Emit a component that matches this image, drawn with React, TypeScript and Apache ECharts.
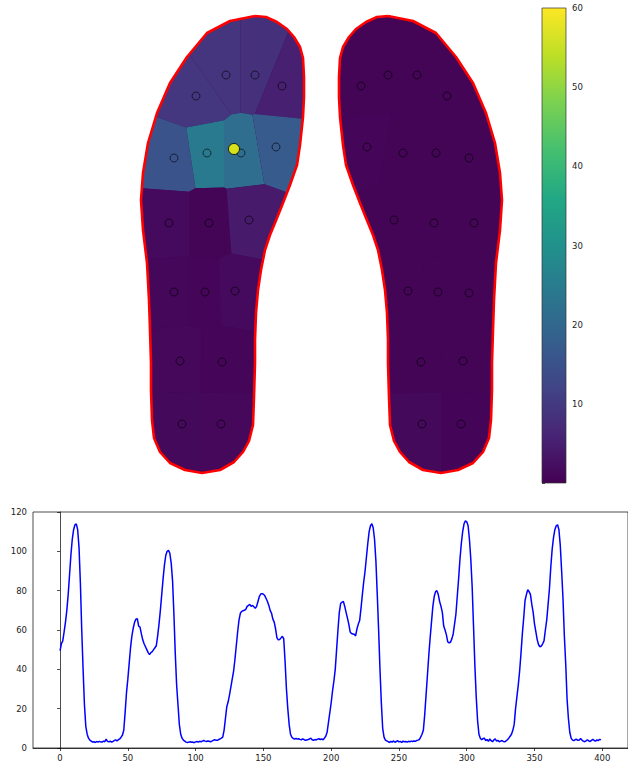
import React, { useEffect, useRef } from 'react';
import * as echarts from 'echarts';

// ---------- line chart data (sensor total over 400 frames) ----------
const pressureSeries: number[] = [
  49.5, 53, 54.5, 59, 64, 70, 78, 88, 98, 106,
  111, 113.5, 114, 111, 102, 84, 60, 40, 22, 11,
  7, 5, 4, 3.5, 3, 3.2, 2.8, 3.3, 3, 3.4,
  3.1, 3, 3.5, 3.2, 4.5, 3.4, 3.1, 3.5, 3, 3.3,
  3.8, 4.1, 3.6, 4.2, 4.6, 5.5, 6.5, 9, 18, 28,
  35, 43, 51, 57, 61, 64, 65.5, 65.8, 62, 61.5,
  58, 55, 53, 51.5, 50, 48.5, 47.5, 48.5, 49, 50,
  51, 52, 57, 63, 70, 78, 86, 93, 98, 100,
  100.5, 99, 94, 85, 68, 48, 32, 22, 12, 7,
  5, 4, 3.5, 3, 2.8, 3, 3.2, 2.9, 3, 2.7,
  3.1, 3.3, 3, 3.4, 3.2, 3.5, 3.8, 3.5, 3.3, 3.6,
  3.4, 3.2, 3.5, 3.9, 4.2, 4, 3.9, 4.3, 4.6, 5,
  5.5, 9, 15, 21, 23.5, 27, 31, 35, 39, 45,
  52, 59, 65, 68.5, 69.5, 69.8, 70, 70.5, 72, 72.5,
  73, 72, 72.5, 71.8, 71, 72, 74.5, 77, 78.3, 78.5,
  78.2, 77.5, 76, 74.5, 72.5, 70, 68.5, 65.5, 64, 60.5,
  56, 55, 55.2, 56, 56.8, 55.5, 44, 30, 20, 12,
  7, 5.5, 4.8, 4.6, 4.8, 4.5, 4.7, 4.4, 4.2, 4.6,
  4.3, 3.9, 4.1, 4.3, 4.6, 5, 4.2, 3.9, 4.3, 4.1,
  4.5, 4.7, 4.3, 4.6, 4.2, 5, 6, 8, 13, 18,
  23, 29, 34, 40, 50, 60, 69, 73.5, 74.2, 74.5,
  72, 69, 66, 63, 59, 58.2, 58, 57.8, 57, 60.5,
  63, 64.8, 71, 78, 84.5, 90, 97, 104, 110, 113,
  114, 112, 106, 95, 78, 60, 40, 23, 10, 5.5,
  4, 3.6, 3.2, 2.8, 3.4, 3, 3.6, 2.9, 3.3, 3.7,
  3.1, 3.4, 2.8, 3.5, 3.2, 3.3, 3, 3.4, 3.2, 3.5,
  3.3, 3.6, 3.4, 3.8, 4, 4.3, 5.5, 7, 9, 17,
  27, 37, 47, 56, 64, 72, 77, 79.5, 80, 78,
  74.5, 72, 69, 62, 60, 57.5, 54, 53.5, 53.8, 55.5,
  58, 63, 68, 77, 86, 96, 104, 110, 114, 115.5,
  115, 113, 106, 96, 82, 62, 42, 26, 14, 7,
  5, 4.2, 4.8, 5, 3.8, 4.3, 3.4, 4.6, 3.7, 3.2,
  4.1, 4.6, 3.5, 3.9, 3.2, 3.5, 3.8, 3.3, 3.1, 3.6,
  4.2, 5, 6, 7, 9, 12, 20, 26, 32, 39,
  48, 58, 66, 75, 78, 80.5, 79.5, 78, 73, 69,
  63, 59, 55, 52.5, 51.5, 51.8, 53, 54.5, 60, 65,
  73, 81, 92, 101, 107, 111, 113, 113.5, 111, 103,
  90, 76, 57, 43, 25, 15, 8, 5, 4, 3.8,
  4.3, 4.4, 3.9, 4.1, 4.8, 4, 3.5, 3.2, 3.6, 4.2,
  3.6, 3.3, 3.9, 4.4, 3.8, 3.5, 4.1, 3.7, 4.4, 4.2,
];
const xTicks = [0, 50, 100, 150, 200, 250, 300, 350, 400];
const colorbarTicks = [10, 20, 30, 40, 50, 60];

// ---------- insole sensors (layout units) ----------
const leftSensorX = [226, 255, 196, 282, 174, 207, 241, 276, 169, 209, 249, 174, 205, 235, 180, 222, 182, 221];
const leftSensorY = [75, 75, 96, 86, 158, 153, 153, 147, 223, 223, 220, 292, 292, 291, 361, 362, 424, 424];
const leftValues = [9, 8.3, 9.5, 5.3, 15.5, 24.5, 21.5, 17, 1.6, 0.6, 4.2, 1.1, 0.9, 1.6, 1.2, 0.9, 1.3, 1.2];

const rightSensorX = [361, 388, 417, 447, 367, 403, 436, 469, 394, 434, 474, 408, 438, 469, 421, 463, 422, 461];
const rightSensorY = [86, 75, 75, 96, 147, 153, 153, 158, 220, 223, 223, 291, 292, 293, 362, 361, 424, 424];
const rightValues = [0.6, 0.6, 0.6, 0.6, 0.9, 0.6, 0.6, 0.6, 0.6, 0.6, 0.6, 0.6, 0.6, 0.6, 0.6, 0.6, 1.3, 0.7];

const leftOutline: number[][] = [
  [255, 16], [266, 17], [277, 22], [287, 29], [294, 37], [300, 47], [303, 58], [304, 77], [304, 97], [303, 117],
  [300, 145], [297, 165], [290, 185], [283, 203], [277, 218], [270, 235], [265, 250], [261, 270], [258, 290], [256, 313],
  [255, 340], [255, 363], [254, 397], [253, 425], [249, 441], [243, 452], [234, 462], [220, 470], [202, 473], [185, 470],
  [170, 463], [160, 452], [154, 438], [152, 420], [151, 390], [151, 363], [150, 330], [149, 300], [147, 263], [143, 230],
  [141, 200], [143, 173], [148, 143], [157, 113], [170, 83], [187, 57], [207, 33], [230, 21],
];
const rightOutline: number[][] = [
  [388, 16], [377, 17], [366, 22], [356, 29], [349, 37], [343, 47], [340, 58], [339, 77], [339, 97], [340, 117],
  [343, 145], [346, 165], [353, 185], [360, 203], [366, 218], [373, 235], [378, 250], [382, 270], [385, 290], [387, 313],
  [388, 340], [388, 363], [389, 397], [390, 425], [394, 441], [400, 452], [409, 462], [423, 470], [441, 473], [458, 470],
  [473, 463], [483, 452], [489, 438], [491, 420], [492, 390], [492, 363], [493, 330], [494, 300], [496, 263], [500, 230],
  [502, 200], [500, 173], [495, 143], [486, 113], [473, 83], [456, 57], [436, 33], [413, 21],
];
const highlightPoint = [234, 149];

const viridis = ['#440154', '#482475', '#414487', '#355f8d', '#2a788e', '#21918c', '#22a884', '#44bf70', '#7ad151', '#bddf26', '#fde725'];

function clipHalfPlane(poly: number[][], a: number[], b: number[]): number[][] {
  const nx = b[0] - a[0];
  const ny = b[1] - a[1];
  const mx = (a[0] + b[0]) / 2;
  const my = (a[1] + b[1]) / 2;
  const f = (p: number[]) => (p[0] - mx) * nx + (p[1] - my) * ny;
  const out: number[][] = [];
  const n = poly.length;
  for (let i = 0; i < n; i++) {
    const cur = poly[i];
    const prev = poly[(i + n - 1) % n];
    const fc = f(cur);
    const fp = f(prev);
    const cross = () => {
      const t = fp / (fp - fc);
      return [prev[0] + t * (cur[0] - prev[0]), prev[1] + t * (cur[1] - prev[1])];
    };
    if (fc <= 0) {
      if (fp > 0) out.push(cross());
      out.push(cur);
    } else if (fp <= 0) {
      out.push(cross());
    }
  }
  return out;
}

function buildCells(xs: number[], ys: number[], outline: number[][]): number[][][] {
  return xs.map((x, i) => {
    let poly = outline.slice();
    for (let j = 0; j < xs.length; j++) {
      if (j === i) continue;
      poly = clipHalfPlane(poly, [x, ys[i]], [xs[j], ys[j]]);
      if (poly.length === 0) break;
    }
    return poly;
  });
}

const allCells = [
  ...buildCells(leftSensorX, leftSensorY, leftOutline),
  ...buildCells(rightSensorX, rightSensorY, rightOutline),
];
const cellData = [
  ...leftSensorX.map((x, i) => [x, leftSensorY[i], leftValues[i], i]),
  ...rightSensorX.map((x, i) => [x, rightSensorY[i], rightValues[i], leftSensorX.length + i]),
];
const sensorPoints = [
  ...leftSensorX.map((x, i) => [x, leftSensorY[i]]),
  ...rightSensorX.map((x, i) => [x, rightSensorY[i]]),
];
const outlines = [leftOutline, rightOutline];

const FONT = 'DejaVu Sans';
const labelStyle = { color: '#222', fontSize: 8.5, fontFamily: FONT };

export default function App() {
  const ref = useRef<HTMLDivElement>(null);
  useEffect(() => {
    if (!ref.current) return;
    const chart = echarts.init(ref.current, undefined, { renderer: 'svg' });
    const hidden = { show: false };
    const option: any = {
      animation: false,
      backgroundColor: '#fff',
      grid: [
        { left: 0, top: 0, width: 628, height: 490 },
        { left: 33, top: 512, width: 596, height: 236, show: true, borderColor: '#000', borderWidth: 0.7 },
        { left: 542, top: 8, width: 24, height: 475 },
      ],
      xAxis: [
        { gridIndex: 0, type: 'value', min: 0, max: 628, ...hidden },
        {
          gridIndex: 1, type: 'value', min: -19.95, max: 418.95,
          axisLine: { show: true, lineStyle: { color: '#000', width: 0.7 } },
          axisTick: { show: true, length: 3, customValues: xTicks, lineStyle: { color: '#000', width: 0.7 } },
          axisLabel: { customValues: xTicks, margin: 5, ...labelStyle },
          splitLine: { show: false },
        },
        { gridIndex: 2, type: 'value', min: 0, max: 1, ...hidden },
      ],
      yAxis: [
        { gridIndex: 0, type: 'value', min: 0, max: 490, inverse: true, ...hidden },
        {
          gridIndex: 1, type: 'value', min: 0, max: 120, interval: 20,
          axisLine: { show: true, lineStyle: { color: '#000', width: 0.7 } },
          axisTick: { show: true, length: 3, lineStyle: { color: '#000', width: 0.7 } },
          axisLabel: { margin: 6, ...labelStyle },
          splitLine: { show: false },
        },
        {
          gridIndex: 2, type: 'value', min: 0, max: 60, interval: 10, position: 'right',
          axisLine: { show: false },
          axisTick: { show: true, length: 3, lineStyle: { color: '#000', width: 0.7 } },
          axisLabel: {
            margin: 6, ...labelStyle,
            formatter: (v: number) => (colorbarTicks.indexOf(v) >= 0 ? String(v) : ''),
          },
          splitLine: { show: false },
        },
      ],
      visualMap: {
        type: 'continuous', show: false, min: 0, max: 60, dimension: 2, seriesIndex: 1,
        inRange: { color: viridis },
      },
      series: [
        {
          type: 'custom', xAxisIndex: 0, yAxisIndex: 0, z: 1,
          data: [[0], [1]],
          renderItem: (params: any, api: any) => {
            const poly = outlines[api.value(0)];
            return {
              type: 'polygon',
              shape: { points: poly.map((p) => api.coord(p)) },
              style: { fill: '#450457', stroke: 'none' },
            };
          },
        },
        {
          type: 'custom', xAxisIndex: 0, yAxisIndex: 0, z: 2,
          data: cellData,
          renderItem: (params: any, api: any) => {
            const idx = api.value(3);
            const poly = allCells[idx];
            if (!poly || poly.length < 3) return null;
            const pts = poly.map((p) => api.coord(p));
            const c = api.visual('color');
            return { type: 'polygon', shape: { points: pts }, style: { fill: c, stroke: 'none', lineWidth: 0 } };
          },
        },
        {
          type: 'line', xAxisIndex: 0, yAxisIndex: 0, z: 3, symbol: 'none',
          data: [...leftOutline, leftOutline[0]],
          lineStyle: { color: '#ff0000', width: 2.6 },
        },
        {
          type: 'line', xAxisIndex: 0, yAxisIndex: 0, z: 3, symbol: 'none',
          data: [...rightOutline, rightOutline[0]],
          lineStyle: { color: '#ff0000', width: 2.6 },
        },
        {
          type: 'scatter', xAxisIndex: 0, yAxisIndex: 0, z: 4, symbol: 'circle', symbolSize: 8,
          data: sensorPoints,
          itemStyle: { color: 'rgba(0,0,0,0)', borderColor: 'rgba(0,0,0,0.75)', borderWidth: 1 },
        },
        {
          type: 'scatter', xAxisIndex: 0, yAxisIndex: 0, z: 5, symbol: 'circle', symbolSize: 11,
          data: [highlightPoint],
          itemStyle: { color: '#ffff00', borderColor: '#000', borderWidth: 1 },
        },
        {
          type: 'line', xAxisIndex: 1, yAxisIndex: 1, symbol: 'none', z: 2,
          data: pressureSeries.map((v, i) => [i, v]),
          lineStyle: { color: '#0000ff', width: 1.5 },
        },
        {
          type: 'custom', xAxisIndex: 2, yAxisIndex: 2, z: 2,
          data: [[0, 0, 60]],
          renderItem: (params: any, api: any) => {
            const p0 = api.coord([0, api.value(1)]);
            const p1 = api.coord([1, api.value(2)]);
            const stops = viridis.map((c, i) => ({ offset: 1 - i / (viridis.length - 1), color: c })).reverse();
            return {
              type: 'rect',
              shape: { x: p0[0], y: p1[1], width: p1[0] - p0[0], height: p0[1] - p1[1] },
              style: {
                fill: new echarts.graphic.LinearGradient(0, 0, 0, 1, stops),
                stroke: '#333', lineWidth: 0.7,
              },
            };
          },
        },
      ],
    };
    chart.setOption(option);
    return () => chart.dispose();
  }, []);
  return <div ref={ref} style={{ position: 'fixed', left: 0, top: 0, width: 628, height: 762 }} />;
}
